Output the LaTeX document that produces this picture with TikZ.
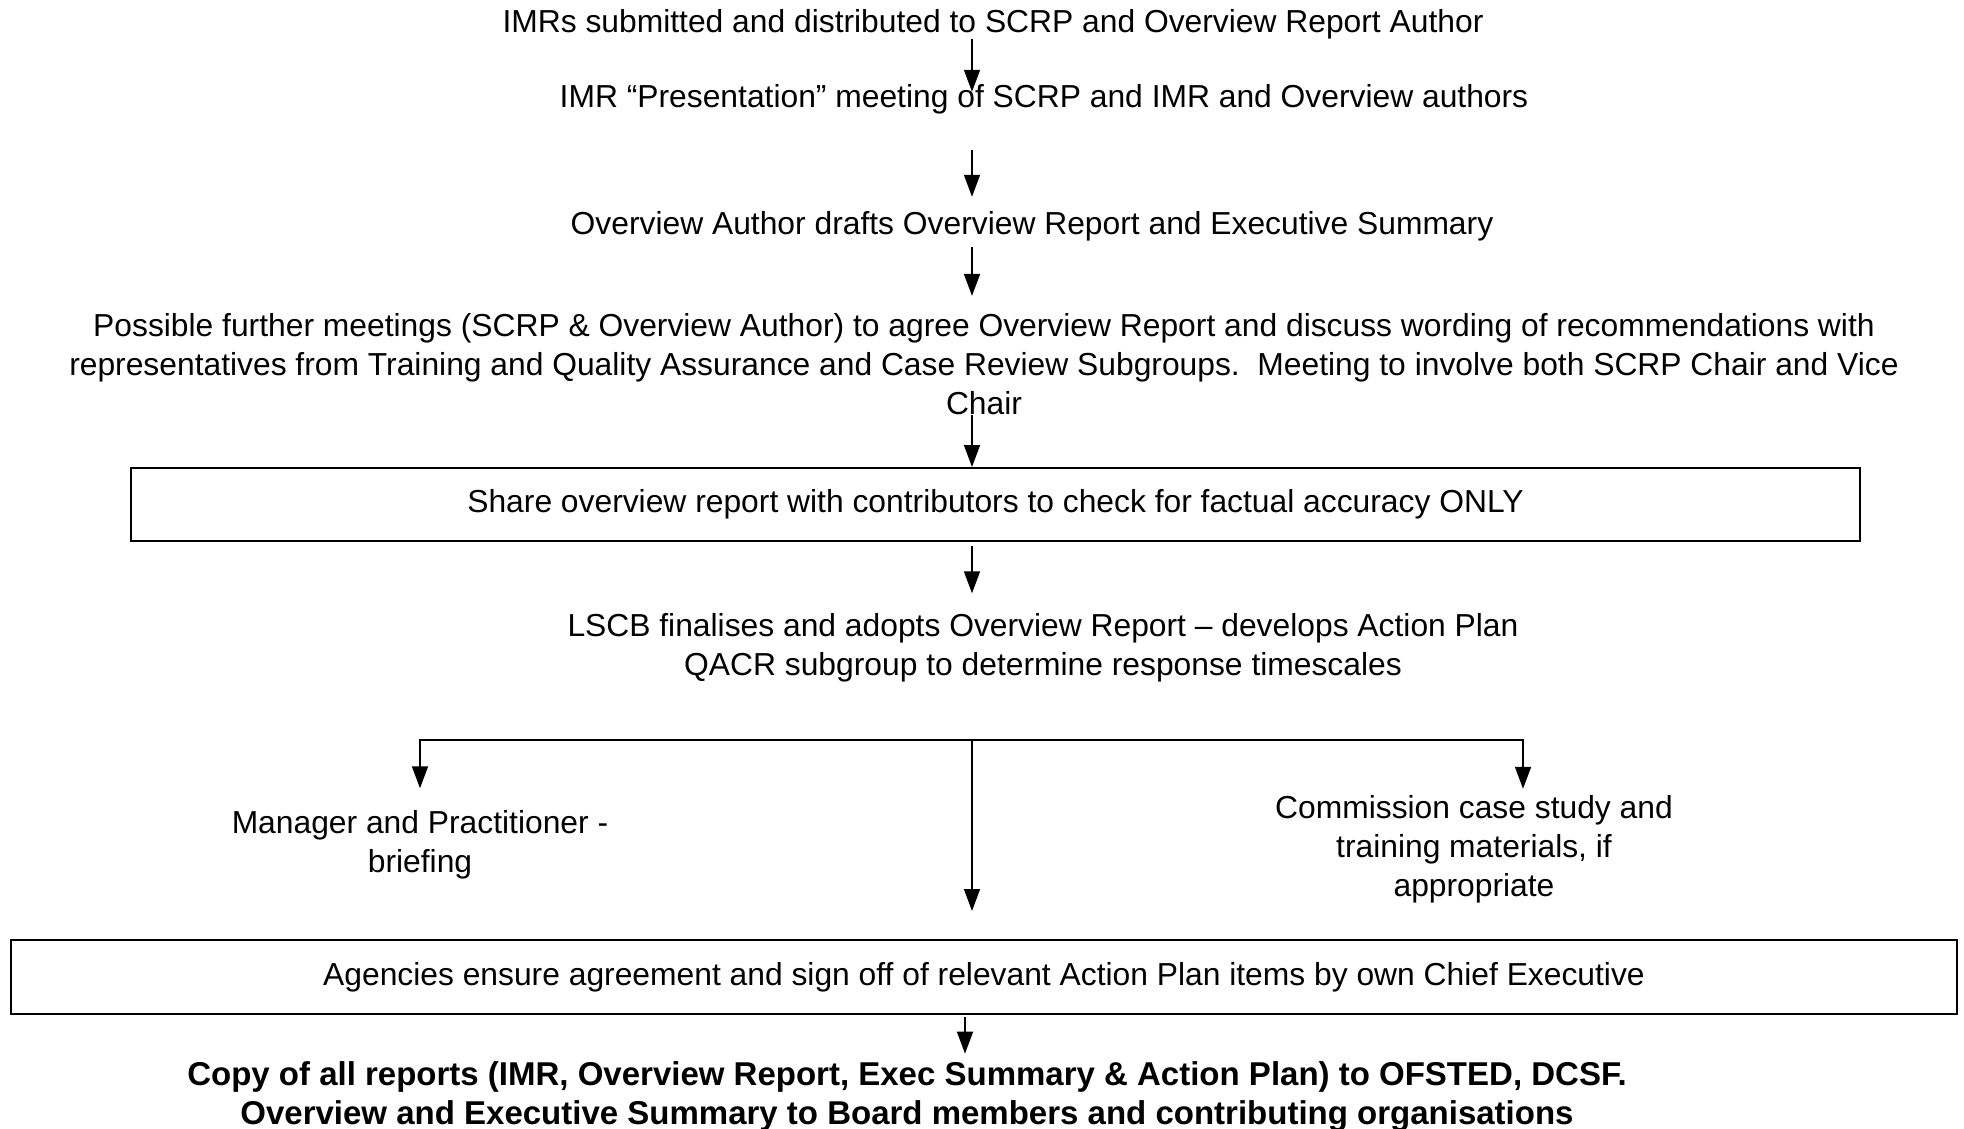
\documentclass[tikz,border=0pt]{standalone}
\usepackage{fontspec}
\setmainfont{Liberation Sans}
\usetikzlibrary{arrows.meta, positioning}
\tikzset{
  px/.style={x=0.5pt, y=-0.5pt},
  steptext/.style={
    align=center,
    inner sep=0pt,
    font=\fontsize{15.9}{19.5}\selectfont
  },
  stagebox/.style={
    steptext,
    draw=black,
    line width=1pt
  },
  flow/.style={
    -{Triangle[length=11pt, width=8pt]},
    line width=0.8pt
  }
}

\begin{document}
\begin{tikzpicture}[px]
  \useasboundingbox (0,0) rectangle (1964,1129);
  \coordinate (spine) at (972,0);
  \coordinate (fork) at (972,740);

  \node[steptext] (imrs) at (993,24) {IMRs submitted and distributed to SCRP and Overview Report Author};
  \node[steptext] (pres) at (1044,99) {IMR “Presentation” meeting of SCRP and IMR and Overview authors};
  \node[steptext] (drafts) at (1032,226) {Overview Author drafts Overview Report and Executive Summary};
  \node[steptext] (meet) at (984,364) {Possible further meetings (SCRP \& Overview Author) to agree Overview Report and discuss wording of recommendations with\\representatives from Training and Quality Assurance and Case Review Subgroups.\ \ Meeting to involve both SCRP Chair and Vice\\Chair};
  \node[stagebox, minimum width=864.5pt, minimum height=36.5pt] (share) at (995.5,504.5) {Share overview report with contributors to check for factual accuracy ONLY};
  \node[steptext] (lscb) at (1043,648) {LSCB finalises and adopts Overview Report – develops Action Plan\\QACR subgroup to determine response timescales};
  \node[steptext] (briefing) at (420,845) {Manager and Practitioner -\\briefing};
  \node[steptext] (commission) at (1474,849) {Commission case study and\\training materials, if\\appropriate};
  \node[stagebox, minimum width=973pt, minimum height=37pt] (agencies) at (984,977) {Agencies ensure agreement and sign off of relevant Action Plan items by own Chief Executive};
  \node[steptext, font=\fontsize{16.5}{19.5}\selectfont\bfseries] (copy) at (907,1097) {Copy of all reports (IMR, Overview Report, Exec Summary \& Action Plan) to OFSTED, DCSF.\\Overview and Executive Summary to Board members and contributing organisations};

  \draw[flow, shorten >=-4pt] (imrs.south -| spine) -- (pres.north -| spine);
  \draw[flow, shorten <=18pt, shorten >=7pt] (pres.south -| spine) -- (drafts.north -| spine);
  \draw[flow, shorten <=3pt, shorten >=8.5pt] (drafts.south -| spine) -- (meet.north -| spine);
  \draw[flow] (meet.south -| spine) -- (share.north -| spine);
  \draw[flow, shorten <=2pt, shorten >=10pt] (share.south -| spine) -- (lscb.north -| spine);
  \draw[flow, shorten >=11pt] (fork) -| (briefing.north);
  \draw[flow, shorten >=3pt] (fork) -| ([xshift=24.5pt]commission.north);
  \draw[flow, shorten >=14pt] (fork) -- (agencies.north -| fork);
  \draw[flow, shorten <=1pt, shorten >=4pt] ([xshift=-3.5pt]agencies.south -| spine) -- ([xshift=-3.5pt]copy.north -| spine);
\end{tikzpicture}
\end{document}
